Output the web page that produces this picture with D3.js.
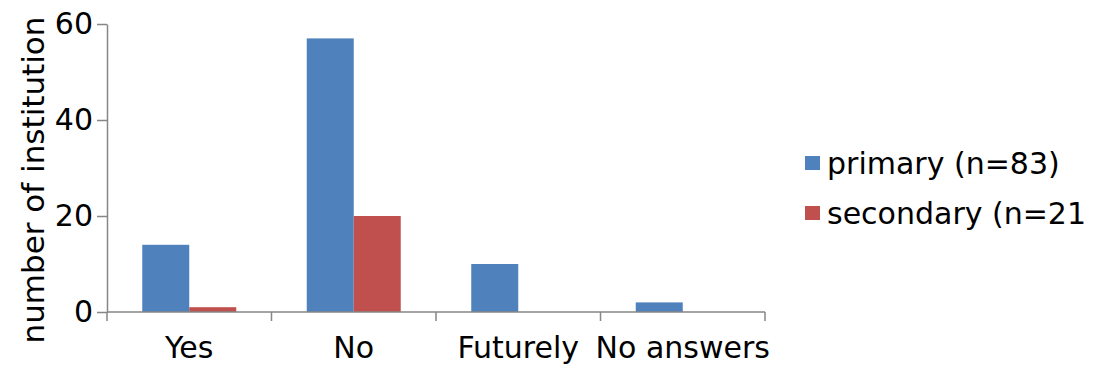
<!DOCTYPE html>
<html>
<head>
<meta charset="utf-8">
<script src="https://cdn.jsdelivr.net/npm/d3@7"></script>
<style>
  html, body { margin: 0; padding: 0; background: #fff; }
  svg { display: block; font-family: "DejaVu Sans", sans-serif; }
</style>
</head>
<body>
<svg id="chart" width="1097" height="371"></svg>
<script>
// Survey answers per category
const categories = ["Yes", "No", "Futurely", "No answers"];
const seriesNames = ["primary (n=83)", "secondary (n=21)"];
const primaryValues = [14, 57, 10, 2];
const secondaryValues = [1, 20, 0, 0];
const yTicks = [0, 20, 40, 60];
const colors = ["#4F81BD", "#C0504D"];

const svg = d3.select("#chart");
const plot = { left: 107, right: 765, top: 24, bottom: 312 };

const x0 = d3.scaleBand().domain(categories).range([plot.left, plot.right]).padding(0);
const x1 = d3.scaleBand().domain([0, 1]).range([0, x0.bandwidth()]).paddingInner(0).paddingOuter(0.75);
const y = d3.scaleLinear().domain([0, 60]).range([plot.bottom, plot.top]);

const axisColor = "#868686";

// Bars
const series = [primaryValues, secondaryValues];
series.forEach((vals, si) => {
  svg.append("g").selectAll("rect")
    .data(categories.map((c, i) => ({ c, v: vals[i] })))
    .join("rect")
    .attr("x", d => x0(d.c) + x1(si))
    .attr("width", x1.bandwidth())
    .attr("y", d => y(d.v))
    .attr("height", d => y(0) - y(d.v))
    .attr("fill", colors[si]);
});

// Y axis
const yAxis = svg.append("g")
  .attr("transform", `translate(${plot.left},0)`)
  .call(d3.axisLeft(y).tickValues(yTicks).tickSize(10).tickPadding(4).tickSizeOuter(0));
yAxis.select(".domain").attr("stroke", axisColor).attr("stroke-width", 1.5);
yAxis.selectAll(".tick line").attr("stroke", axisColor).attr("stroke-width", 1.5);
yAxis.selectAll(".tick text").attr("font-size", 30).attr("font-family", "DejaVu Sans").attr("fill", "#000");

// X axis with boundary ticks between categories
const xAxis = svg.append("g").attr("transform", `translate(0,${plot.bottom})`);
xAxis.append("line")
  .attr("x1", plot.left).attr("x2", plot.right)
  .attr("stroke", axisColor).attr("stroke-width", 1.5);
const bounds = categories.map(c => x0(c)).concat([plot.right]);
xAxis.selectAll("line.b").data(bounds).join("line")
  .attr("class", "b")
  .attr("x1", d => d).attr("x2", d => d)
  .attr("y1", 0).attr("y2", 9)
  .attr("stroke", axisColor).attr("stroke-width", 1.5);
xAxis.selectAll("text").data(categories).join("text")
  .attr("x", d => x0(d) + x0.bandwidth() / 2)
  .attr("y", 46)
  .attr("text-anchor", "middle")
  .attr("font-size", 30)
  .attr("fill", "#000")
  .text(d => d);

// Y axis title
svg.append("text")
  .attr("transform", `translate(44,180) rotate(-90)`)
  .attr("text-anchor", "middle")
  .attr("font-size", 31)
  .attr("fill", "#000")
  .text("number of institution");

// Legend
svg.append("clipPath").attr("id", "legendClip")
  .append("rect").attr("x", 790).attr("y", 120).attr("width", 297).attr("height", 130);
const legend = svg.append("g").attr("clip-path", "url(#legendClip)");
seriesNames.forEach((name, i) => {
  const cy = 163 + i * 50;
  legend.append("rect")
    .attr("x", 805).attr("y", cy - 7).attr("width", 15).attr("height", 14)
    .attr("fill", colors[i]);
  legend.append("text")
    .attr("x", 827).attr("y", cy + 11)
    .attr("font-size", 30)
    .attr("fill", "#000")
    .text(name);
});
</script>
</body>
</html>
